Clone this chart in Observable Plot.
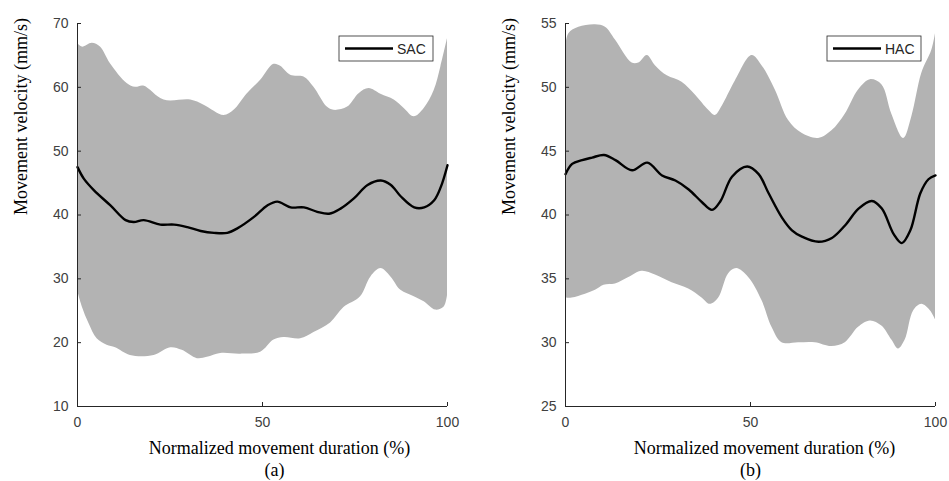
<!DOCTYPE html>
<html>
<head>
<meta charset="utf-8">
<script src="https://cdn.jsdelivr.net/npm/d3@7"></script>
<script src="https://cdn.jsdelivr.net/npm/@observablehq/plot@0.6"></script>
<style>
  html, body { margin: 0; padding: 0; background: #fff; }
  #wrap { display: flex; width: 949px; height: 481px; }
  #wrap svg { display: block; }
</style>
</head>
<body>
<div id="wrap"></div>
<script>
// ---- Panel (a): SAC ----
const saUpperX = [0,1.3,4,6.2,8.9,13.4,15.7,17.9,23.4,30.6,34.2,39.6,42.3,45.9,49.5,53.1,54.9,57.6,61.2,63.9,67.5,69.3,73,76.1,78.8,82,85.6,88.3,91,93.7,96.4,98.2,100];
const saUpperY = [66.9,66.3,66.9,66.3,63.7,60.6,60.0,60.2,58.0,58.0,57.2,55.6,56.4,59.0,61.1,63.6,63.3,61.9,61.6,60.0,56.9,56.4,56.9,59.0,59.8,58.9,58.0,56.7,55.4,56.7,59.5,63.2,67.6];
const saMeanX = [0,1.7,4.4,8.9,13.0,15.2,17.9,22.4,26.1,29.7,33.3,36.9,40.5,43.2,47.7,51.3,54.0,57.6,61.2,64.8,68.0,71.1,74.7,78.4,82.0,84.7,87.4,91.0,93.7,96.4,98.2,100];
const saMeanY = [47.5,45.7,43.9,41.5,39.2,38.9,39.2,38.5,38.5,38.1,37.5,37.2,37.2,37.9,39.7,41.5,42.1,41.2,41.2,40.5,40.2,41.0,42.6,44.7,45.4,44.7,42.9,41.2,41.2,42.3,44.4,47.8];
const saLowerX = [0,1.3,3.1,5.3,8.0,10.3,14.3,20.7,25.2,28.3,32.4,35.1,38.7,44.1,49.5,53.1,55.8,60.3,63.9,68.4,72.0,76.5,79.3,82.0,84.7,87.4,91.0,93.7,96.8,99.1,100];
const saLowerY = [28.2,25.6,23.0,20.6,19.6,19.2,18.0,18.0,19.2,18.8,17.5,17.7,18.3,18.2,18.5,20.4,20.8,20.6,21.6,23.1,25.5,27.2,30.3,31.6,30.3,28.2,27.2,26.4,25.1,25.6,27.4];
const saYTicks = [10,20,30,40,50,60,70];

// ---- Panel (b): HAC ----
const hacUpperX = [0,0.9,3.6,8.1,10.8,13.5,18.0,19.8,22.1,24.3,27.5,31.5,35.1,38.7,40.5,42.3,45.9,50.4,53.1,56.7,60.3,63.9,68.4,72.0,75.6,79.2,82.4,85.5,88.2,91.4,93.6,96.3,99.0,100];
const hacUpperY = [52.9,54.2,54.7,54.9,54.7,53.7,51.9,51.9,52.5,51.7,50.9,50.4,49.4,48.2,47.8,48.5,50.5,52.5,51.7,49.8,47.4,46.4,46.0,46.6,47.9,49.8,50.6,50.2,47.9,46.0,47.7,51.1,52.9,54.2];
const hacMeanX = [0,1.8,4.5,7.2,10.4,13.5,18.0,22.1,26.1,29.7,33.3,36.9,39.6,41.9,45.0,49.1,52.2,54.9,58.5,61.2,63.9,68.4,72.0,75.6,79.2,82.8,85.5,88.7,90.9,93.2,95.9,98.1,100];
const hacMeanY = [43.2,44.0,44.3,44.5,44.7,44.3,43.5,44.1,43.1,42.7,42.0,41.0,40.4,41.1,43.0,43.8,43.2,41.7,39.8,38.8,38.3,37.9,38.2,39.2,40.5,41.1,40.5,38.5,37.8,38.8,41.7,42.8,43.1];
const hacLowerX = [0,1.8,5.4,8.1,10.4,13.5,17.1,20.7,24.3,28.8,33.3,36.9,39.1,41.4,44.1,46.3,49.5,53.1,55.8,58.5,63.0,67.5,72.0,75.6,79.2,82.4,85.5,88.2,90.0,91.8,94.1,96.3,98.6,100];
const hacLowerY = [33.5,33.5,33.8,34.1,34.5,34.6,35.1,35.6,35.3,34.7,34.2,33.5,33.0,33.5,35.4,35.8,35.1,33.3,31.2,30.0,30.0,30.0,29.7,30.0,31.2,31.7,31.3,30.2,29.5,30.2,32.5,33.0,32.5,31.8];
const hacYTicks = [25,30,35,40,45,50,55];

const xTicks = [0,50,100];
const xLabel = "Normalized movement duration (%)";
const yLabel = "Movement velocity (mm/s)";

const zip = (xs, ys) => xs.map((x, i) => ({x, v: ys[i]}));

function panel(cfg) {
  const upper = zip(cfg.upperX, cfg.upperY);
  const lower = zip(cfg.lowerX, cfg.lowerY);
  const mean = zip(cfg.meanX, cfg.meanY);
  const [y0, y1] = cfg.yDomain;
  const curve = "catmull-rom";
  const svg = Plot.plot({
    width: cfg.width, height: 481,
    marginTop: 23, marginBottom: 75, marginLeft: cfg.ml, marginRight: cfg.mr,
    x: {domain: [0, 100]},
    y: {domain: cfg.yDomain},
    style: {fontFamily: "'Liberation Sans', Arial, sans-serif", fontSize: "14px", color: "#404040", background: "#fff", overflow: "visible"},
    marks: [
      Plot.areaY(upper, {x: "x", y1: y0, y2: "v", fill: "#b3b3b3", curve}),
      Plot.areaY(lower, {x: "x", y1: y0, y2: "v", fill: "#ffffff", curve}),
      Plot.lineY(mean, {x: "x", y: "v", stroke: "#000", strokeWidth: 2.4, curve}),
      Plot.ruleY([y0], {stroke: "#262626", strokeWidth: 1}),
      Plot.ruleX([0], {stroke: "#262626", strokeWidth: 1}),
      Plot.axisX({ticks: xTicks, tickSize: -4, tickPadding: 15, stroke: "#262626", fill: "#404040", label: null, fontSize: 14}),
      Plot.axisY({ticks: cfg.yTicks, tickSize: -4, tickPadding: 13, stroke: "#262626", fill: "#404040", label: null, fontSize: 14}),
      Plot.text([yLabel], {frameAnchor: "left", dx: -56, rotate: -90, fontFamily: "'Liberation Serif', 'Times New Roman', serif", fontSize: 18, fill: "#000"}),
      Plot.text([xLabel], {frameAnchor: "bottom", dy: 42, dx: cfg.xlDx, lineAnchor: "middle", fontFamily: "'Liberation Serif', 'Times New Roman', serif", fontSize: 18, fill: "#000"}),
      Plot.text([cfg.tag], {frameAnchor: "bottom", dy: 64, dx: cfg.tagDx, lineAnchor: "middle", fontFamily: "'Liberation Serif', 'Times New Roman', serif", fontSize: 18, fill: "#000"})
    ]
  });
  // legend box
  const s = d3.select(svg);
  const g = s.append("g");
  const lx = cfg.legendX;
  g.append("rect").attr("x", lx).attr("y", 36).attr("width", 94).attr("height", 25)
    .attr("fill", "#fff").attr("stroke", "#262626").attr("stroke-width", 0.8);
  g.append("line").attr("x1", lx + 6).attr("x2", lx + 54).attr("y1", 48.5).attr("y2", 48.5)
    .attr("stroke", "#000").attr("stroke-width", 2.4);
  g.append("text").attr("x", lx + 58).attr("y", 53.5).attr("fill", "#262626")
    .attr("text-anchor", "start")
    .attr("font-family", "'Liberation Sans', Arial, sans-serif").attr("font-size", 14).text(cfg.name);
  return svg;
}

const wrap = document.getElementById("wrap");
wrap.appendChild(panel({
  width: 475, ml: 77, mr: 28, yDomain: [10, 70], yTicks: saYTicks,
  upperX: saUpperX, upperY: saUpperY, meanX: saMeanX, meanY: saMeanY, lowerX: saLowerX, lowerY: saLowerY,
  xlDx: 17, tag: "(a)", tagDx: 12, legendX: 339, name: "SAC"
}));
wrap.appendChild(panel({
  width: 474, ml: 90, mr: 14, yDomain: [25, 55], yTicks: hacYTicks,
  upperX: hacUpperX, upperY: hacUpperY, meanX: hacMeanX, meanY: hacMeanY, lowerX: hacLowerX, lowerY: hacLowerY,
  xlDx: 14, tag: "(b)", tagDx: 0, legendX: 352, name: "HAC"
}));
</script>
</body>
</html>
